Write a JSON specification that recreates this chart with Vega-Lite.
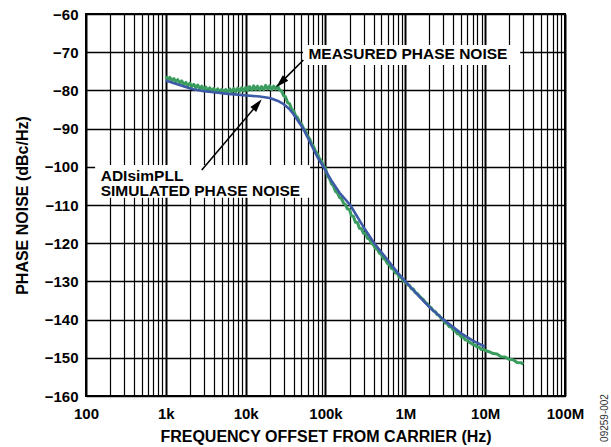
{
  "$schema": "https://vega.github.io/schema/vega-lite/v6.json",
  "width": 479,
  "height": 382,
  "autosize": {"type": "none"},
  "padding": {"left": 86, "top": 14, "right": 46, "bottom": 51},
  "background": "white",
  "config": {
    "view": {"stroke": "#000", "strokeWidth": 2},
    "font": "Liberation Sans",
    "axis": {
      "labelFont": "Liberation Sans", "labelFontSize": 15, "labelFontWeight": "bold", "labelColor": "#000",
      "titleFont": "Liberation Sans", "titleFontSize": 16, "titleFontWeight": "bold", "titleColor": "#000",
      "ticks": false, "domain": false, "grid": true, "gridColor": "#000", "gridOpacity": 1
    }
  },
  "datasets": {
    "measured": [
      {"f": 1000, "db": -76.3}, {"f": 1060, "db": -77.1}, {"f": 1120, "db": -76.6}, {"f": 1190, "db": -77.4},
      {"f": 1260, "db": -76.9}, {"f": 1330, "db": -77.8}, {"f": 1410, "db": -77.2}, {"f": 1500, "db": -78.1},
      {"f": 1580, "db": -77.5}, {"f": 1680, "db": -78.5}, {"f": 1780, "db": -77.9}, {"f": 1880, "db": -78.8},
      {"f": 2000, "db": -78.1}, {"f": 2110, "db": -79.0}, {"f": 2240, "db": -78.4}, {"f": 2370, "db": -79.3},
      {"f": 2510, "db": -78.6}, {"f": 2660, "db": -79.6}, {"f": 2820, "db": -78.9}, {"f": 2990, "db": -79.8},
      {"f": 3160, "db": -79.1}, {"f": 3350, "db": -80.1}, {"f": 3550, "db": -79.3}, {"f": 3760, "db": -80.2},
      {"f": 3980, "db": -79.5}, {"f": 4220, "db": -80.4}, {"f": 4470, "db": -79.6}, {"f": 4730, "db": -80.5},
      {"f": 5010, "db": -79.7}, {"f": 5310, "db": -80.6}, {"f": 5620, "db": -79.8}, {"f": 5960, "db": -80.6},
      {"f": 6310, "db": -79.6}, {"f": 6680, "db": -80.5}, {"f": 7080, "db": -79.5}, {"f": 7500, "db": -80.4},
      {"f": 7940, "db": -79.4}, {"f": 8410, "db": -80.3}, {"f": 8910, "db": -79.3}, {"f": 9440, "db": -80.2},
      {"f": 10000, "db": -79.2}, {"f": 10600, "db": -80.1}, {"f": 11200, "db": -79.0}, {"f": 11900, "db": -79.9},
      {"f": 12600, "db": -78.8}, {"f": 13300, "db": -79.8}, {"f": 14100, "db": -78.9}, {"f": 15000, "db": -79.9},
      {"f": 15800, "db": -79.0}, {"f": 16800, "db": -79.8}, {"f": 17800, "db": -78.7}, {"f": 18800, "db": -79.6},
      {"f": 20000, "db": -78.8}, {"f": 21100, "db": -79.8}, {"f": 22400, "db": -78.9}, {"f": 23700, "db": -79.7},
      {"f": 25100, "db": -78.8}, {"f": 26600, "db": -79.9}, {"f": 28200, "db": -80.2}, {"f": 29900, "db": -81.4},
      {"f": 31600, "db": -81.7}, {"f": 33500, "db": -83.2}, {"f": 35500, "db": -83.5}, {"f": 37600, "db": -84.9},
      {"f": 39800, "db": -85.3}, {"f": 42200, "db": -86.6}, {"f": 44700, "db": -87.1}, {"f": 47300, "db": -88.4},
      {"f": 50100, "db": -88.8}, {"f": 53100, "db": -90.0}, {"f": 56200, "db": -90.6}, {"f": 59600, "db": -91.9},
      {"f": 63100, "db": -92.6}, {"f": 66800, "db": -94.0}, {"f": 70800, "db": -94.6}, {"f": 75000, "db": -96.0},
      {"f": 79400, "db": -96.6}, {"f": 84100, "db": -97.9}, {"f": 89100, "db": -98.5}, {"f": 94400, "db": -99.8},
      {"f": 100000, "db": -100.4}, {"f": 106000, "db": -102.4}, {"f": 112000, "db": -103.0}, {"f": 119000, "db": -104.5},
      {"f": 126000, "db": -105.0}, {"f": 133000, "db": -106.4}, {"f": 141000, "db": -106.8}, {"f": 150000, "db": -108.0},
      {"f": 158000, "db": -108.3}, {"f": 168000, "db": -109.5}, {"f": 178000, "db": -109.9}, {"f": 188000, "db": -111.0},
      {"f": 200000, "db": -111.2}, {"f": 211000, "db": -112.8}, {"f": 224000, "db": -113.0}, {"f": 237000, "db": -114.5},
      {"f": 251000, "db": -114.6}, {"f": 266000, "db": -116.1}, {"f": 282000, "db": -116.2}, {"f": 299000, "db": -117.4},
      {"f": 316000, "db": -117.4}, {"f": 335000, "db": -118.7}, {"f": 355000, "db": -118.9}, {"f": 376000, "db": -120.0},
      {"f": 398000, "db": -120.4}, {"f": 422000, "db": -121.4}, {"f": 447000, "db": -121.6}, {"f": 473000, "db": -122.6},
      {"f": 501000, "db": -123.0}, {"f": 531000, "db": -124.0}, {"f": 562000, "db": -124.3}, {"f": 596000, "db": -125.3},
      {"f": 631000, "db": -125.6}, {"f": 668000, "db": -126.6}, {"f": 708000, "db": -126.7}, {"f": 750000, "db": -127.8},
      {"f": 794000, "db": -127.9}, {"f": 841000, "db": -128.9}, {"f": 891000, "db": -129.0}, {"f": 944000, "db": -129.9},
      {"f": 1000000, "db": -130.0}, {"f": 1060000, "db": -130.9}, {"f": 1120000, "db": -131.0}, {"f": 1190000, "db": -131.9},
      {"f": 1260000, "db": -132.0}, {"f": 1330000, "db": -132.9}, {"f": 1410000, "db": -133.2}, {"f": 1500000, "db": -133.8},
      {"f": 1580000, "db": -134.3}, {"f": 1680000, "db": -134.8}, {"f": 1780000, "db": -135.5}, {"f": 1880000, "db": -135.8},
      {"f": 2000000, "db": -136.6}, {"f": 2110000, "db": -136.9}, {"f": 2240000, "db": -137.7}, {"f": 2370000, "db": -137.9},
      {"f": 2510000, "db": -138.7}, {"f": 2660000, "db": -138.9}, {"f": 2820000, "db": -139.8}, {"f": 2990000, "db": -140.0},
      {"f": 3160000, "db": -140.9}, {"f": 3350000, "db": -141.0}, {"f": 3550000, "db": -141.9}, {"f": 3760000, "db": -141.9},
      {"f": 3980000, "db": -142.7}, {"f": 4220000, "db": -142.9}, {"f": 4470000, "db": -143.7}, {"f": 4730000, "db": -143.8},
      {"f": 5010000, "db": -144.5}, {"f": 5310000, "db": -144.6}, {"f": 5620000, "db": -145.3}, {"f": 5960000, "db": -145.4},
      {"f": 6310000, "db": -145.9}, {"f": 6680000, "db": -146.2}, {"f": 7080000, "db": -146.6}, {"f": 7500000, "db": -146.7},
      {"f": 7940000, "db": -147.2}, {"f": 8410000, "db": -147.2}, {"f": 8910000, "db": -147.8}, {"f": 9440000, "db": -147.7},
      {"f": 10000000, "db": -148.1}, {"f": 11200000, "db": -148.4}, {"f": 12600000, "db": -148.9}, {"f": 14100000, "db": -149.0},
      {"f": 15800000, "db": -149.7}, {"f": 17800000, "db": -149.8}, {"f": 20000000, "db": -150.4}, {"f": 22400000, "db": -150.5},
      {"f": 25100000, "db": -151.2}, {"f": 28200000, "db": -151.3}, {"f": 30000000, "db": -151.7}
    ],
    "simulated": [
      {"f": 1000, "db": -77.4}, {"f": 1300, "db": -78.2}, {"f": 1700, "db": -79.0}, {"f": 2200, "db": -79.7},
      {"f": 3000, "db": -80.2}, {"f": 4000, "db": -80.5}, {"f": 6000, "db": -80.9}, {"f": 8000, "db": -81.1},
      {"f": 10000, "db": -81.3}, {"f": 15000, "db": -81.6}, {"f": 20000, "db": -82.0}, {"f": 25000, "db": -82.7},
      {"f": 30000, "db": -83.6}, {"f": 35000, "db": -84.8}, {"f": 40000, "db": -86.3}, {"f": 45000, "db": -87.9},
      {"f": 52600, "db": -90.0}, {"f": 60000, "db": -92.4}, {"f": 70000, "db": -95.2}, {"f": 80000, "db": -97.6},
      {"f": 94000, "db": -100.0}, {"f": 120000, "db": -103.8}, {"f": 150000, "db": -106.8}, {"f": 204000, "db": -110.0},
      {"f": 300000, "db": -115.8}, {"f": 408000, "db": -120.0}, {"f": 600000, "db": -124.4}, {"f": 800000, "db": -127.7},
      {"f": 1000000, "db": -130.0}, {"f": 1500000, "db": -134.0}, {"f": 2000000, "db": -136.7}, {"f": 3000000, "db": -140.0},
      {"f": 5000000, "db": -143.6}, {"f": 7000000, "db": -145.5}, {"f": 10000000, "db": -147.1}
    ],
    "boxes": [
      {"f": 52400, "f2": 27500000, "db": -68.1, "db2": -73.35},
      {"f": 130, "f2": 64100, "db": -99.5, "db2": -108.1}
    ],
    "arrows": [
      {"arrow": "measured", "f": 52800, "db": -72.04, "f2": 27770, "db2": -77.9},
      {"arrow": "simulated", "f": 2820, "db": -100.84, "f2": 13980, "db2": -83.72}
    ],
    "labels": [
      {"f": 61100, "db": -71.78, "text": ["MEASURED PHASE NOISE"]},
      {"f": 152.8, "db": -103.65, "text": ["ADIsimPLL", "SIMULATED PHASE NOISE"]}
    ],
    "code": [
      {"f": 319000000, "db": -165.76, "text": "09259-002"}
    ]
  },
  "encoding": {
    "x": {
      "field": "f", "type": "quantitative",
      "scale": {"type": "log", "domain": [100, 100000000]},
      "axis": {
        "title": "FREQUENCY OFFSET FROM CARRIER (Hz)",
        "values": [100, 200, 300, 400, 500, 600, 700, 800, 900,
                   1000, 2000, 3000, 4000, 5000, 6000, 7000, 8000, 9000,
                   10000, 20000, 30000, 40000, 50000, 60000, 70000, 80000, 90000,
                   100000, 200000, 300000, 400000, 500000, 600000, 700000, 800000, 900000,
                   1000000, 2000000, 3000000, 4000000, 5000000, 6000000, 7000000, 8000000, 9000000,
                   10000000, 20000000, 30000000, 40000000, 50000000, 60000000, 70000000, 80000000, 90000000,
                   100000000],
        "labelExpr": "datum.value == 100 ? '100' : datum.value == 1000 ? '1k' : datum.value == 10000 ? '10k' : datum.value == 100000 ? '100k' : datum.value == 1000000 ? '1M' : datum.value == 10000000 ? '10M' : datum.value == 100000000 ? '100M' : ''",
        "labelOverlap": false,
        "labelFlush": false,
        "labelPadding": 10,
        "titlePadding": 7,
        "gridWidth": {"condition": {"test": "indexof([100, 1000, 10000, 100000, 1000000, 10000000, 100000000], datum.value) >= 0", "value": 2}, "value": 1.2}
      }
    },
    "y": {
      "field": "db", "type": "quantitative",
      "scale": {"domain": [-160, -60], "nice": false, "zero": false},
      "axis": {
        "title": "PHASE NOISE (dBc/Hz)",
        "values": [-160, -150, -140, -130, -120, -110, -100, -90, -80, -70, -60],
        "labelPadding": 8,
        "titlePadding": 14,
        "gridWidth": 1.4
      }
    }
  },
  "layer": [
    {
      "data": {"name": "boxes"},
      "mark": {"type": "rect", "fill": "white", "stroke": null},
      "encoding": {"x2": {"field": "f2"}, "y2": {"field": "db2"}}
    },
    {
      "data": {"name": "measured"},
      "mark": {"type": "line", "color": "#3a9c5e", "strokeWidth": 3, "strokeJoin": "round"}
    },
    {
      "data": {"name": "simulated"},
      "mark": {"type": "line", "color": "#3d5aa6", "strokeWidth": 2.6, "strokeJoin": "round"}
    },
    {
      "data": {"name": "arrows"},
      "mark": {"type": "rule", "color": "#000", "strokeWidth": 1.6},
      "encoding": {"x2": {"field": "f2"}, "y2": {"field": "db2"}}
    },
    {
      "data": {"name": "arrows"},
      "mark": {"type": "point", "filled": true, "color": "#000", "opacity": 1, "size": 196,
               "shape": "M0,-1L0.55,0.9L-0.55,0.9Z"},
      "encoding": {
        "x": {"field": "f2", "type": "quantitative"},
        "y": {"field": "db2", "type": "quantitative"},
        "angle": {"condition": {"test": "datum.arrow == 'measured'", "value": 225}, "value": 40}
      }
    },
    {
      "data": {"name": "labels"},
      "mark": {"type": "text", "align": "left", "baseline": "alphabetic", "font": "Liberation Sans",
               "fontSize": 15.5, "fontWeight": "bold", "color": "#000", "lineHeight": 15.5},
      "encoding": {"text": {"field": "text"}}
    },
    {
      "data": {"name": "code"},
      "mark": {"type": "text", "align": "center", "baseline": "middle", "angle": 270, "font": "Liberation Sans",
               "fontSize": 10, "color": "#333"},
      "encoding": {"text": {"field": "text"}}
    }
  ]
}
